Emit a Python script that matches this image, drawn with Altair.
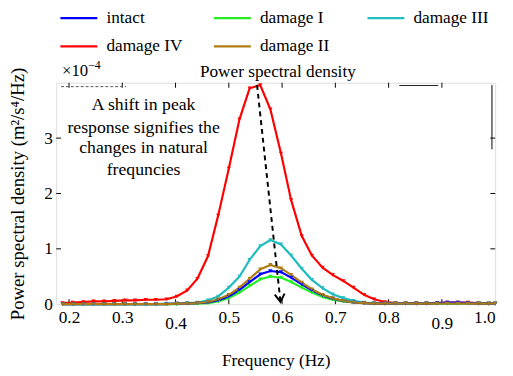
import altair as alt
import pandas as pd

FONT = "Liberation Serif"

freq = [0.188, 0.207, 0.227, 0.246, 0.266, 0.285, 0.305, 0.324, 0.344, 0.363,
        0.383, 0.402, 0.422, 0.441, 0.461, 0.480, 0.500, 0.520, 0.539, 0.559,
        0.578, 0.598, 0.617, 0.637, 0.656, 0.676, 0.695, 0.715, 0.734, 0.754,
        0.773, 0.793, 0.813, 0.832, 0.852, 0.871, 0.891, 0.910, 0.930, 0.949,
        0.969, 0.988, 1.000]

damage_iv = [0.02, 0.03, 0.04, 0.05, 0.05, 0.06, 0.07, 0.07, 0.08, 0.08,
             0.09, 0.14, 0.25, 0.46, 0.87, 1.60, 2.45, 3.34, 3.90, 3.96,
             3.52, 2.72, 1.88, 1.23, 0.88, 0.66, 0.53, 0.42, 0.30, 0.17,
             0.09, 0.04, 0.02, 0.02, 0.02, 0.02, 0.02, 0.03, 0.03, 0.03,
             0.02, 0.01, 0.01]
damage_i = [0.00, 0.00, 0.00, 0.00, 0.00, 0.00, 0.00, 0.00, 0.00, 0.00,
            0.00, 0.00, 0.01, 0.01, 0.02, 0.05, 0.11, 0.21, 0.33, 0.45,
            0.50, 0.48, 0.40, 0.30, 0.21, 0.13, 0.08, 0.05, 0.03, 0.02,
            0.01, 0.01, 0.01, 0.01, 0.01, 0.01, 0.01, 0.01, 0.01, 0.01,
            0.01, 0.01, 0.01]
damage_iii = [0.00, 0.00, 0.00, 0.00, 0.00, 0.00, 0.00, 0.00, 0.00, 0.00,
              0.01, 0.01, 0.02, 0.03, 0.07, 0.14, 0.30, 0.50, 0.80, 1.05,
              1.16, 1.08, 0.88, 0.64, 0.44, 0.29, 0.18, 0.11, 0.06, 0.03,
              0.02, 0.01, 0.01, 0.01, 0.01, 0.01, 0.01, 0.01, 0.01, 0.01,
              0.01, 0.01, 0.01]
intact = [0.00, 0.00, 0.00, 0.00, 0.00, 0.00, 0.00, 0.00, 0.00, 0.00,
          0.00, 0.01, 0.01, 0.02, 0.03, 0.07, 0.14, 0.26, 0.40, 0.54,
          0.60, 0.58, 0.48, 0.36, 0.25, 0.16, 0.10, 0.06, 0.03, 0.02,
          0.01, 0.01, 0.01, 0.01, 0.01, 0.01, 0.02, 0.03, 0.03, 0.02,
          0.01, 0.01, 0.01]
damage_ii = [0.00, 0.00, 0.00, 0.00, 0.00, 0.00, 0.00, 0.00, 0.00, 0.00,
             0.00, 0.01, 0.01, 0.02, 0.04, 0.09, 0.17, 0.30, 0.46, 0.63,
             0.71, 0.65, 0.53, 0.39, 0.27, 0.17, 0.11, 0.06, 0.03, 0.02,
             0.01, 0.01, 0.01, 0.01, 0.01, 0.01, 0.01, 0.01, 0.01, 0.01,
             0.01, 0.01, 0.01]

# legend fills column by column (2 rows): row1 intact, damage I, damage III; row2 damage IV, damage II
legend_order = ["intact", "damage IV", "damage I", "damage II", "damage III"]
legend_colors = ["#0000ff", "#ff0000", "#22ee22", "#b07c12", "#1fbcc0"]

draw_order = [("damage IV", damage_iv), ("damage I", damage_i),
              ("damage III", damage_iii), ("intact", intact),
              ("damage II", damage_ii)]

rows = []
for name, vals in draw_order:
    for f, v in zip(freq, vals):
        rows.append({"f": f, "p": v, "series": name})
df = pd.DataFrame(rows)

x_ticks = [0.2, 0.3, 0.4, 0.5, 0.6, 0.7, 0.8, 0.9, 1.0]
y_ticks = [0, 1, 2, 3]

xs = alt.Scale(domain=[0.176, 1.0], nice=False, zero=False)
ys = alt.Scale(domain=[0, 4], nice=False, zero=True)

lines = alt.Chart(df).mark_line(
    strokeWidth=2.2,
    point=alt.OverlayMarkDef(shape="triangle-down", size=18, filled=True),
).encode(
    x=alt.X("f:Q", scale=xs, axis=alt.Axis(
        values=x_ticks, format=".1f", ticks=False, domain=False, grid=False,
        labelFont=FONT, labelFontSize=17.5, labelColor="black",
        labelPadding={"condition": {"test": "abs(datum.value-0.4)<0.001 || abs(datum.value-0.9)<0.001", "value": 11}, "value": 5},
        title="Frequency (Hz)", titleFont=FONT, titleFontSize=17.5,
        titleFontWeight="normal", titleColor="black", titlePadding=20)),
    y=alt.Y("p:Q", scale=ys, axis=alt.Axis(
        values=y_ticks, format="d", ticks=False, domain=False, grid=False,
        labelFont=FONT, labelFontSize=17.5, labelColor="black", labelPadding=4,
        title="Power spectral density (m\u00b2/s\u2074/Hz)", titleFont=FONT,
        titleFontSize=19, titleFontWeight="normal", titleColor="black",
        titlePadding=16)),
    color=alt.Color("series:N", scale=alt.Scale(domain=legend_order, range=legend_colors),
                    legend=alt.Legend(
                        title=None, orient="none", legendX=14, legendY=-75,
                        columns=3, symbolType="M-2.5,0H2.5", symbolSize=225,
                        symbolStrokeWidth=2.2, labelFont=FONT, labelFontSize=17.5,
                        labelColor="black", columnPadding=26, rowPadding=11,
                        gridAlign="all", labelOffset=19)),
)

# inward tick marks on all four sides
tick_x_df = pd.DataFrame({"x": x_ticks[:-1]})
tick_y_df = pd.DataFrame({"y": y_ticks[1:]})
bottom_ticks = alt.Chart(tick_x_df).mark_rule(color="black", strokeWidth=1).encode(
    x=alt.X("x:Q", scale=xs), y=alt.datum(0), y2=alt.datum(0.09))
top_ticks = alt.Chart(tick_x_df).mark_rule(color="black", strokeWidth=1).encode(
    x=alt.X("x:Q", scale=xs), y=alt.datum(4), y2=alt.datum(3.91))
left_ticks = alt.Chart(tick_y_df).mark_rule(color="black", strokeWidth=1).encode(
    y=alt.Y("y:Q", scale=ys), x=alt.datum(0.176), x2=alt.datum(0.185))
right_ticks = alt.Chart(tick_y_df).mark_rule(color="black", strokeWidth=1).encode(
    y=alt.Y("y:Q", scale=ys), x=alt.datum(1.0), x2=alt.datum(0.991))

# chart title and exponent label
title_df = pd.DataFrame({"x": [0.592], "y": [4.0], "t": ["Power spectral density"]})
title = alt.Chart(title_df).mark_text(
    font=FONT, fontSize=17.5, align="center", baseline="bottom", dy=-2, color="black"
).encode(x=alt.X("x:Q", scale=xs), y=alt.Y("y:Q", scale=ys), text="t:N")
exp_base = alt.Chart(pd.DataFrame({"x": [0.187], "y": [4.0], "t": ["\u00d710"]})).mark_text(
    font=FONT, fontSize=17, align="left", baseline="bottom", dy=-3, color="black"
).encode(x=alt.X("x:Q", scale=xs), y=alt.Y("y:Q", scale=ys), text="t:N")
exp_pow = alt.Chart(pd.DataFrame({"x": [0.236], "y": [4.0], "t": ["\u22124"]})).mark_text(
    font=FONT, fontSize=12, align="left", baseline="bottom", dy=-11, color="black"
).encode(x=alt.X("x:Q", scale=xs), y=alt.Y("y:Q", scale=ys), text="t:N")

# annotation text
note_lines = ["A shift in peak", "response signifies the", "changes in natural", "frequncies"]
note_y = [3.59, 3.18, 2.82, 2.42]
note_x = [0.34, 0.34, 0.34, 0.34]
note = alt.Chart(pd.DataFrame({"x": note_x, "y": note_y, "t": note_lines})).mark_text(
    font=FONT, fontSize=18, align="center", baseline="middle", color="black"
).encode(x=alt.X("x:Q", scale=xs), y=alt.Y("y:Q", scale=ys), text="t:N")

# dashed arrow
arrow_df = pd.DataFrame({"x": [0.553], "y": [3.96], "x2": [0.597], "y2": [0.04]})
arrow = alt.Chart(arrow_df).mark_rule(color="black", strokeWidth=2, strokeDash=[5, 4]).encode(
    x=alt.X("x:Q", scale=xs), y=alt.Y("y:Q", scale=ys), x2="x2:Q", y2="y2:Q")
head = alt.Chart(arrow_df).mark_point(
    shape="M-1,-1.6L0,0L1,-1.6", filled=False, color="black", strokeWidth=2,
    size=100, angle=354, opacity=1
).encode(x=alt.X("x2:Q", scale=xs), y=alt.Y("y2:Q", scale=ys))

# small leftover segments in the figure frame
seg_df = pd.DataFrame({"x": [0.185], "x2": [0.307], "y": [3.93]})
seg = alt.Chart(seg_df).mark_rule(color="#555555", strokeWidth=1, strokeDash=[3, 2]).encode(
    x=alt.X("x:Q", scale=xs), x2="x2:Q", y=alt.Y("y:Q", scale=ys))
seg2_df = pd.DataFrame({"x": [0.820], "x2": [0.893], "y": [3.95]})
seg2 = alt.Chart(seg2_df).mark_rule(color="#222222", strokeWidth=1).encode(
    x=alt.X("x:Q", scale=xs), x2="x2:Q", y=alt.Y("y:Q", scale=ys))
seg3_df = pd.DataFrame({"x": [0.994], "y": [3.96], "y2": [2.80]})
seg3 = alt.Chart(seg3_df).mark_rule(color="black", strokeWidth=1).encode(
    x=alt.X("x:Q", scale=xs), y=alt.Y("y:Q", scale=ys), y2="y2:Q")

chart = alt.layer(
    bottom_ticks, top_ticks, left_ticks, right_ticks, seg, seg2, seg3,
    lines, arrow, head, note, title, exp_base, exp_pow
).properties(
    width=446, height=225,
    autosize=alt.AutoSizeParams(type="none"),
    padding={"left": 49, "top": 73, "right": 10, "bottom": 70},
).configure_view(stroke="black", strokeWidth=2).configure(background="white")

chart.save("out.html", embed_options={"renderer": "svg", "actions": False})
